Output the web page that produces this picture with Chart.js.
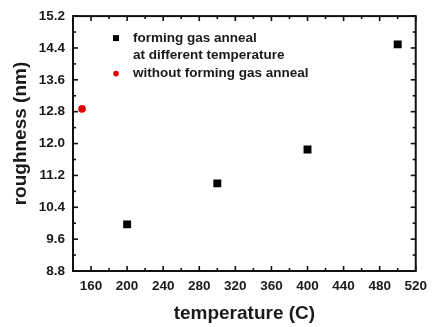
<!DOCTYPE html>
<html>
<head>
<meta charset="utf-8">
<script src="https://cdn.jsdelivr.net/npm/chart.js@4.4.1/dist/chart.umd.min.js"></script>
<style>
  html, body { margin: 0; padding: 0; background: #fff; }
  #wrap { width: 434px; height: 327px; }
</style>
</head>
<body>
<div id="wrap"><canvas id="roughChart"></canvas></div>
<script>
// values
const annealTemps = [200, 300, 400, 500];
const annealRoughness = [9.97, 11.0, 11.85, 14.49];
const plainTemps = [150];
const plainRoughness = [12.87];

const xTickValues = [160, 200, 240, 280, 320, 360, 400, 440, 480, 520];
const yTickValues = [8.8, 9.6, 10.4, 11.2, 12.0, 12.8, 13.6, 14.4, 15.2];

const seriesLabels = [
    ['forming gas anneal', 'at different temperature'],
    ['without forming gas anneal']
];
const yTitle = 'roughness (nm)';

const FONT = '"Liberation Sans", Arial, sans-serif';
const INK = '#1a1a1a';

// midpoints between major ticks -> minor ticks
function minorsOf(arr) {
    const out = [];
    for (let i = 1; i < arr.length; i++) out.push((arr[i - 1] + arr[i]) / 2);
    return out;
}

// box, inward ticks on all four sides, y title and the in-plot legend
const framePlugin = {
    id: 'frame',
    afterDraw(chart) {
        const { ctx, chartArea: a, scales: { x, y } } = chart;
        ctx.save();
        ctx.strokeStyle = '#111';
        ctx.lineWidth = 2;
        ctx.strokeRect(a.left, a.top, a.right - a.left, a.bottom - a.top);

        ctx.lineWidth = 1.6;
        const tick = (x1, y1, x2, y2) => {
            ctx.beginPath(); ctx.moveTo(x1, y1); ctx.lineTo(x2, y2); ctx.stroke();
        };
        xTickValues.forEach(v => {
            const px = x.getPixelForValue(v);
            tick(px, a.bottom, px, a.bottom - 5);
            tick(px, a.top, px, a.top + 5);
        });
        minorsOf(xTickValues).forEach(v => {
            const px = x.getPixelForValue(v);
            tick(px, a.bottom, px, a.bottom - 3);
            tick(px, a.top, px, a.top + 3);
        });
        yTickValues.forEach(v => {
            const py = y.getPixelForValue(v);
            tick(a.left, py, a.left + 5, py);
            tick(a.right, py, a.right - 5, py);
        });
        minorsOf(yTickValues).forEach(v => {
            const py = y.getPixelForValue(v);
            tick(a.left, py, a.left + 3, py);
            tick(a.right, py, a.right - 3, py);
        });

        // y axis title, sits a bit above the plot centre in the original
        ctx.save();
        ctx.translate(21, (a.top + a.bottom) / 2 - 10);
        ctx.rotate(-Math.PI / 2);
        ctx.font = 'bold 19px ' + FONT;
        ctx.fillStyle = INK;
        ctx.textAlign = 'center';
        ctx.textBaseline = 'middle';
        ctx.fillText(yTitle, 0, 0);
        ctx.restore();

        // legend
        const lx = a.left + 43, tx = a.left + 60;
        ctx.font = 'bold 13.5px ' + FONT;
        ctx.textBaseline = 'middle';
        ctx.textAlign = 'left';
        const rows = [a.top + 22, a.top + 39.5, a.top + 57.5];
        ctx.fillStyle = '#000';
        ctx.fillRect(lx - 3, rows[0] - 3, 6, 6);
        ctx.fillStyle = INK;
        ctx.fillText(seriesLabels[0][0], tx, rows[0]);
        ctx.fillText(seriesLabels[0][1], tx, rows[1]);
        ctx.fillStyle = '#e00000';
        ctx.beginPath(); ctx.arc(lx, rows[2], 2.8, 0, Math.PI * 2); ctx.fill();
        ctx.fillStyle = INK;
        ctx.fillText(seriesLabels[1][0], tx, rows[2]);
        ctx.restore();
    }
};

const tickFont = { family: FONT, size: 13.5, weight: 'bold' };
const titleFont = { family: FONT, size: 19, weight: 'bold' };

new Chart(document.getElementById('roughChart'), {
    type: 'scatter',
    data: {
        datasets: [
            {
                label: seriesLabels[0].join(' '),
                data: annealTemps.map((t, i) => ({ x: t, y: annealRoughness[i] })),
                pointStyle: 'rect',
                pointRadius: 5.6,
                backgroundColor: '#000',
                borderColor: '#000',
                borderWidth: 0
            },
            {
                label: seriesLabels[1][0],
                data: plainTemps.map((t, i) => ({ x: t, y: plainRoughness[i] })),
                pointStyle: 'circle',
                pointRadius: 3.8,
                backgroundColor: '#e00000',
                borderColor: '#e00000',
                borderWidth: 0
            }
        ]
    },
    options: {
        responsive: true,
        maintainAspectRatio: false,
        animation: false,
        layout: { padding: { top: 15, right: 15, left: 0, bottom: 0 } },
        plugins: {
            legend: { display: false },
            tooltip: { enabled: false }
        },
        scales: {
            x: {
                type: 'linear',
                min: 140,
                max: 520,
                afterBuildTicks: s => { s.ticks = xTickValues.map(v => ({ value: v })); },
                afterFit: s => { s.height = 56; },
                grid: { display: false, drawTicks: false },
                border: { display: false },
                ticks: {
                    font: tickFont,
                    color: INK,
                    padding: 7,
                    maxRotation: 0,
                    autoSkip: false
                },
                title: {
                    display: true,
                    text: 'temperature (C)',
                    font: titleFont,
                    color: INK,
                    padding: { top: 0, bottom: 2 }
                }
            },
            y: {
                min: 8.8,
                max: 15.2,
                afterBuildTicks: s => { s.ticks = yTickValues.map(v => ({ value: v })); },
                afterFit: s => { s.width = 73; },
                grid: { display: false, drawTicks: false },
                border: { display: false },
                ticks: {
                    font: tickFont,
                    color: INK,
                    padding: 8,
                    autoSkip: false,
                    callback: v => v.toFixed(1)
                },
                title: { display: false }
            }
        }
    },
    plugins: [framePlugin]
});
</script>
</body>
</html>
